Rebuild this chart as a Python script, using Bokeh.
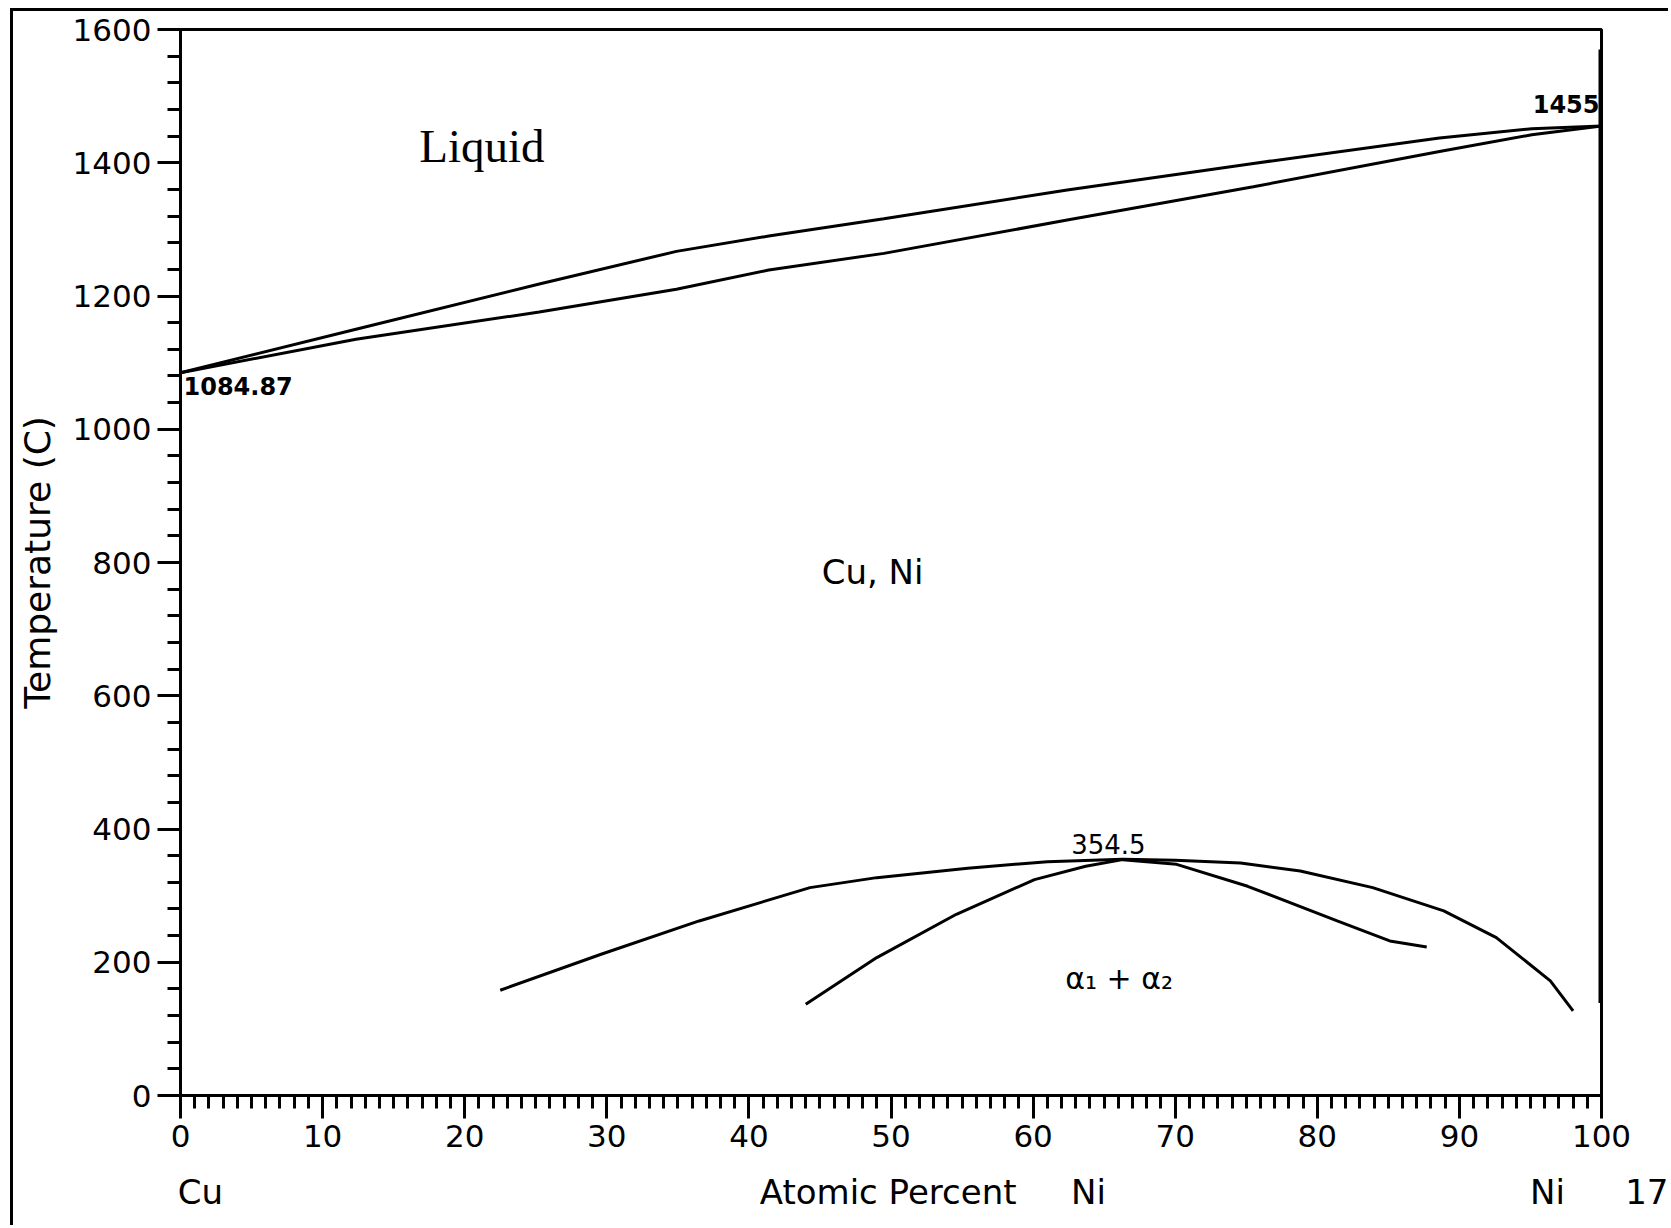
from bokeh.plotting import figure
from bokeh.models import Range1d, SingleIntervalTicker, FixedTicker, Label, LinearAxis
from bokeh.embed import file_html
from bokeh.resources import INLINE

# ---------------- data ----------------
liquidus_x = [0, 12.35, 25.25, 34.9, 41.4, 49.5, 62.4, 75.5, 88.6, 95.1, 100]
liquidus_T = [1084.87, 1150, 1218, 1267, 1290, 1316, 1359, 1399, 1437, 1451, 1455]

solidus_x = [0, 12.35, 25.25, 34.9, 41.4, 49.5, 62.4, 75.5, 88.6, 95.1, 100]
solidus_T = [1084.87, 1135, 1176, 1210, 1239, 1264, 1314, 1364, 1417, 1442, 1455]

binodal_x = [22.5, 29.6, 36.5, 44.3, 49.0, 55.4, 61.0, 66.3, 70.0, 74.6, 78.8, 83.9, 88.9, 92.6, 96.4, 98.0]
binodal_T = [158, 212, 262, 312, 327, 341, 351, 354.5, 353, 349, 337, 312, 277, 237, 172, 127]

spinodal_x = [44.0, 49.0, 54.6, 60.1, 63.7, 66.3, 70.1, 75.1, 81.4, 85.1, 87.7]
spinodal_T = [137, 207, 272, 324, 344, 354, 347, 314, 262, 232, 223]

ni_line_x = [100, 100]
ni_line_T = [139, 1570]

x_ticks_interval = 10
y_ticks_interval = 200

region_texts = ["Cu, Ni", "354.5", "α₁ + α₂"]
region_x = [48.7, 65.3, 62.26]
region_T = [756, 363, 150]

# bottom row texts, positioned on a 0..1000 helper scale across the axis
bottom_ticks = [14, 498, 639, 962, 1000]
bottom_texts = ["Cu", "Atomic Percent", "Ni", "Ni", "\u00a0" * 10 + "17"]

# ---------------- figure ----------------
W, H = 1658, 1217
p = figure(width=W, height=H, output_backend="svg", toolbar_location=None,
           x_range=Range1d(0, 100), y_range=Range1d(0, 1600),
           min_border_left=162, min_border_right=70, min_border_top=18, min_border_bottom=133)
p.styles = {"margin-left": "10px", "margin-top": "8px",
            "border-left": "3px solid black", "border-top": "3px solid black"}
p.grid.visible = False
p.outline_line_color = "black"
p.outline_line_width = 3
p.background_fill_color = "white"
p.border_fill_color = "white"

FONT = "DejaVu Sans"
for ax in (p.xaxis[0], p.yaxis[0]):
    ax.axis_line_width = 3
    ax.axis_line_color = "black"
    ax.major_tick_in = 0
    ax.major_tick_out = 23
    ax.minor_tick_in = 0
    ax.minor_tick_out = 13
    ax.major_tick_line_width = 3
    ax.minor_tick_line_width = 3
    ax.major_tick_line_color = "black"
    ax.minor_tick_line_color = "black"
    ax.major_label_text_font = FONT
    ax.major_label_text_font_size = "31px"
    ax.major_label_text_color = "black"

p.xaxis[0].ticker = SingleIntervalTicker(interval=x_ticks_interval, num_minor_ticks=10)
p.xaxis[0].major_label_standoff = 6
p.yaxis[0].ticker = SingleIntervalTicker(interval=y_ticks_interval, num_minor_ticks=5)
p.yaxis[0].major_label_standoff = 6
p.yaxis[0].axis_label = "Temperature (C)"
p.yaxis[0].axis_label_text_font = FONT
p.yaxis[0].axis_label_text_font_size = "36px"
p.yaxis[0].axis_label_text_font_style = "normal"
p.yaxis[0].axis_label_text_color = "black"
p.yaxis[0].axis_label_standoff = 12

# bottom row of texts as a second, line-less axis
p.extra_x_ranges = {"row": Range1d(0, 1000)}
row_axis = LinearAxis(x_range_name="row", ticker=FixedTicker(ticks=bottom_ticks),
                      major_label_overrides=dict(zip(bottom_ticks, bottom_texts)))
row_axis.axis_line_color = None
row_axis.major_tick_line_color = None
row_axis.minor_tick_line_color = None
row_axis.major_tick_out = 0
row_axis.major_label_standoff = 22
row_axis.major_label_text_font = FONT
row_axis.major_label_text_font_size = "34px"
row_axis.major_label_text_color = "black"
p.add_layout(row_axis, "below")

# ---------------- curves ----------------
p.line(liquidus_x, liquidus_T, line_color="black", line_width=3)
p.line(solidus_x, solidus_T, line_color="black", line_width=3)
p.line(binodal_x, binodal_T, line_color="black", line_width=3)
p.line(spinodal_x, spinodal_T, line_color="black", line_width=3)
p.line(ni_line_x, ni_line_T, line_color="black", line_width=6)

# ---------------- labels ----------------
p.add_layout(Label(x=16.8, y=1386, text="Liquid", text_font="Liberation Serif",
                   text_font_size="47px", text_color="black"))
for t, xx, yy in zip(region_texts, region_x, region_T):
    size = "34px" if t == "Cu, Ni" else ("26px" if t == "354.5" else "30px")
    align = "left" if t.startswith("α") else "center"
    p.add_layout(Label(x=xx, y=yy, text=t, text_font=FONT, text_font_size=size,
                       text_align=align, text_color="black"))
p.add_layout(Label(x=0.21, y=1078, text="1084.87", text_font=FONT, text_font_size="24px",
                   text_font_style="bold", text_baseline="top", text_color="black"))
p.add_layout(Label(x=99.86, y=1475, text="1455", text_font=FONT, text_font_size="24px",
                   text_font_style="bold", text_align="right", text_color="black"))

open("out.html", "w").write(file_html(p, INLINE))
